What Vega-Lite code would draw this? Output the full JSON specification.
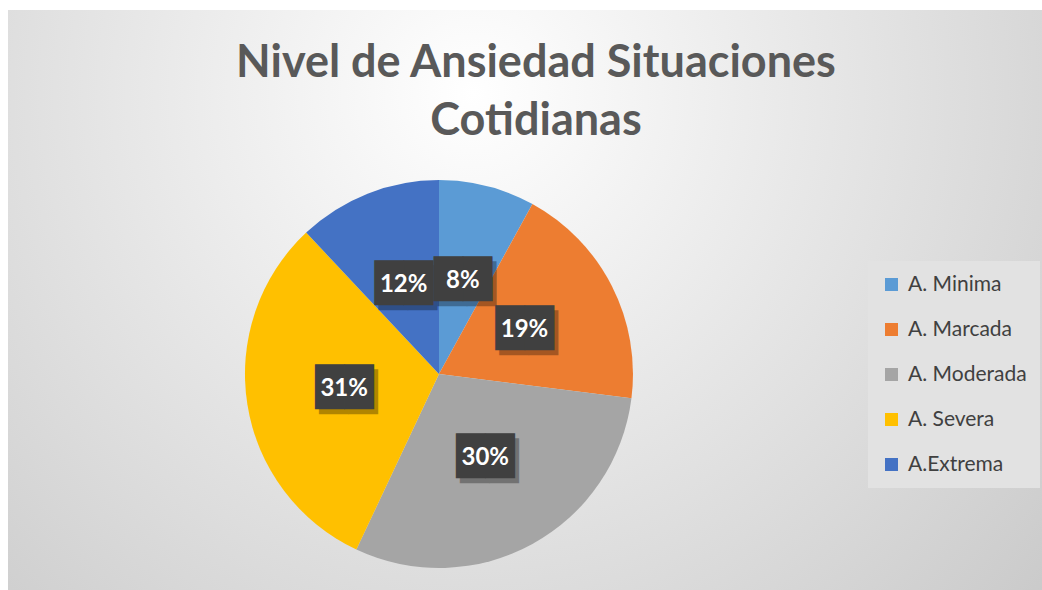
{
  "$schema": "https://vega.github.io/schema/vega-lite/v6.json",
  "width": 1042,
  "height": 590,
  "autosize": {"type": "fit", "contains": "padding"},
  "padding": {"left": 8, "top": 10, "right": 0, "bottom": 0},
  "background": "#ffffff",
  "title": {
    "text": ["Nivel de Ansiedad Situaciones", "Cotidianas"],
    "orient": "top",
    "anchor": "middle",
    "frame": "group",
    "offset": -134,
    "baseline": "top",
    "dx": 11,
    "font": "Lato",
    "fontSize": 45,
    "fontWeight": "bold",
    "color": "#595959",
    "lineHeight": 58
  },
  "config": {
    "view": {"stroke": "#d0d0d0", "strokeWidth": 1}
  },
  "datasets": {
    "fondo": [{"fondo": 1}],
    "niveles": [
      {"nivel": "A. Minima", "porcentaje": 8, "orden": 1, "etiqueta": "8%"},
      {"nivel": "A. Marcada", "porcentaje": 19, "orden": 2, "etiqueta": "19%"},
      {"nivel": "A. Moderada", "porcentaje": 30, "orden": 3, "etiqueta": "30%"},
      {"nivel": "A. Severa", "porcentaje": 31, "orden": 4, "etiqueta": "31%"},
      {"nivel": "A.Extrema", "porcentaje": 12, "orden": 5, "etiqueta": "12%"}
    ]
  },
  "layer": [
    {
      "data": {"name": "fondo"},
      "mark": {
        "type": "rect",
        "fill": {
          "gradient": "radial",
          "x1": 0.45, "y1": 0.3, "r1": 0,
          "x2": 0.45, "y2": 0.3, "r2": 0.85,
          "stops": [
            {"offset": 0, "color": "#ffffff"},
            {"offset": 1, "color": "#c2c2c2"}
          ]
        }
      },
      "encoding": {}
    },
    {
      "data": {"name": "niveles"},
      "mark": {
        "type": "arc",
        "outerRadius": 194,
        "x": {"expr": "width*0.4168"},
        "y": {"expr": "height*0.6276"}
      },
      "encoding": {
        "theta": {"field": "porcentaje", "type": "quantitative", "stack": true},
        "order": {"field": "orden", "type": "quantitative"},
        "color": {
          "field": "nivel",
          "type": "nominal",
          "sort": ["A. Minima", "A. Marcada", "A. Moderada", "A. Severa", "A.Extrema"],
          "scale": {
            "domain": ["A. Minima", "A. Marcada", "A. Moderada", "A. Severa", "A.Extrema"],
            "range": ["#5B9BD5", "#ED7D31", "#A5A5A5", "#FFC000", "#4472C4"]
          },
          "legend": {
            "title": null,
            "orient": "none",
            "legendX": 860,
            "legendY": 251,
            "fillColor": "#e2e2e2",
            "padding": 13,
            "symbolType": "square",
            "symbolSize": 170,
            "symbolStrokeWidth": 0,
            "labelFont": "Lato",
            "labelFontSize": 21,
            "labelColor": "#404040",
            "labelOffset": 6,
            "rowPadding": 23,
            "labelLimit": 200
          }
        }
      }
    },
    {
      "data": {"name": "niveles"},
      "mark": {
        "type": "text",
        "radius": 96,
        "x": {"expr": "width*0.4168"},
        "y": {"expr": "height*0.6276"},
        "font": "DejaVu Sans",
        "fontSize": 38,
        "baseline": "middle",
        "align": "center",
        "dx": 4,
        "dy": 5,
        "color": "#000000",
        "opacity": 0.3
      },
      "encoding": {
        "theta": {"field": "porcentaje", "type": "quantitative", "stack": true},
        "order": {"field": "orden", "type": "quantitative"},
        "text": {"value": "██"}
      }
    },
    {
      "data": {"name": "niveles"},
      "mark": {
        "type": "text",
        "radius": 96,
        "x": {"expr": "width*0.4168"},
        "y": {"expr": "height*0.6276"},
        "font": "DejaVu Sans",
        "fontSize": 38,
        "baseline": "middle",
        "align": "center",
        "color": "#404040"
      },
      "encoding": {
        "theta": {"field": "porcentaje", "type": "quantitative", "stack": true},
        "order": {"field": "orden", "type": "quantitative"},
        "text": {"value": "██"}
      }
    },
    {
      "data": {"name": "niveles"},
      "mark": {
        "type": "text",
        "radius": 96,
        "x": {"expr": "width*0.4168"},
        "y": {"expr": "height*0.6276"},
        "font": "Lato",
        "fontSize": 24,
        "fontWeight": "bold",
        "baseline": "middle",
        "align": "center",
        "color": "#ffffff"
      },
      "encoding": {
        "theta": {"field": "porcentaje", "type": "quantitative", "stack": true},
        "order": {"field": "orden", "type": "quantitative"},
        "text": {"field": "etiqueta", "type": "nominal"}
      }
    }
  ]
}
